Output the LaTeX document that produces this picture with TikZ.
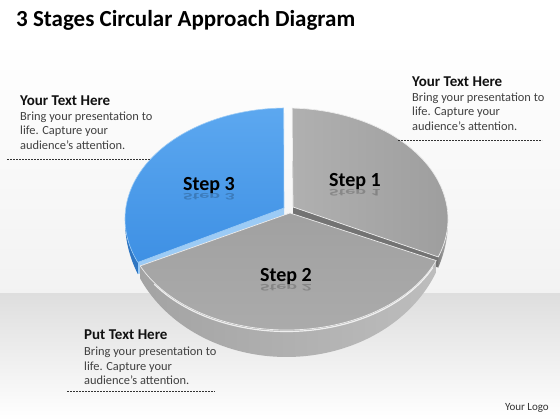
\documentclass[tikz,border=0pt]{standalone}
\usepackage{fontspec}
\setmainfont{Carlito}
\definecolor{bodytxt}{HTML}{404040}
\definecolor{headtxt}{HTML}{111111}
\definecolor{bluetop}{HTML}{4A9EEE}
\definecolor{bluetopb}{HTML}{3E90E4}
\definecolor{bluewall}{HTML}{2F76C2}
\definecolor{bluecut}{HTML}{9CCBF5}
\begin{document}
\begin{tikzpicture}[x=1pt,y=-1pt,
  head/.style={anchor=base west,font=\fontsize{15}{17}\selectfont\bfseries,text=headtxt,inner sep=0pt},
  body/.style={anchor=base west,font=\fontsize{12.4}{14.5}\selectfont,text=bodytxt,inner sep=0pt},
  sep/.style={line width=0.6pt,draw=black!80,dash pattern=on 2pt off 1pt},
  steplbl/.style={font=\fontsize{20}{22}\selectfont\bfseries,text=black,inner sep=0pt},
  refl/.style={font=\fontsize{20}{22}\selectfont\bfseries,text=black,opacity=0.2,inner sep=0pt},
  rim/.style={draw=white!85!gray,line width=0.7pt,line join=round}]
\useasboundingbox (0,0) rectangle (560,420);
% background
\fill[white] (0,0) rectangle (560,420);
\shade[top color=white,bottom color=black!5] (0,40) rectangle (560,293);
\shade[top color=black!13,bottom color=white] (0,293) rectangle (560,420);

% ---- Step 1 (exploded, back right)
\coordinate (a1) at (293,207);
\coordinate (a1b) at (293,226);
\path[fill=black!55] (a1) -- ({286.5+161.5*cos(-20)},{219-111*sin(-20)})
   -- ({286.5+161.5*cos(-20)},{221-136*sin(-20)}) -- (a1b) -- cycle;
\path[left color=black!50,right color=black!28]
   plot[domain=0:-20,samples=20,variable=\t] ({286.5+161.5*cos(\t)},{219-111*sin(\t)})
   -- plot[domain=-20:0,samples=20,variable=\t] ({286.5+161.5*cos(\t)},{221-136*sin(\t)}) -- cycle;
\path[left color=black!31,right color=black!38,rim] (a1)
   -- plot[domain=88:-20,samples=60,variable=\t] ({286.5+161.5*cos(\t)},{219-111*sin(\t)}) -- cycle;

% ---- Step 3 (blue, back left)
\coordinate (a3) at (284,208);
\coordinate (a3b) at (284,226);
\path[fill=bluecut] (a3) -- ({286.5+161.5*cos(203)},{219-111*sin(203)})
   -- ({286.5+161.5*cos(203)},{221-136*sin(203)}) -- (a3b) -- cycle;
\path[fill=bluewall]
   plot[domain=180:203,samples=20,variable=\t] ({286.5+161.5*cos(\t)},{219-111*sin(\t)})
   -- plot[domain=203:180,samples=20,variable=\t] ({286.5+161.5*cos(\t)},{221-136*sin(\t)}) -- cycle;
\path[top color=bluetop!90!white,bottom color=bluetopb,draw=bluecut,line width=0.6pt] (a3)
   -- plot[domain=91:203,samples=60,variable=\t] ({286.5+161.5*cos(\t)},{219-111*sin(\t)}) -- cycle;

% ---- Step 2 (front)
\coordinate (a2) at (290,213);
\path[left color=black!36,middle color=black!46,right color=black!26]
   plot[domain=205:338,samples=80,variable=\t] ({286.5+161.5*cos(\t)},{219-111*sin(\t)})
   -- plot[domain=338:205,samples=80,variable=\t] ({286.5+161.5*cos(\t)},{221-136*sin(\t)}) -- cycle;
\draw[white,line width=1.2pt,opacity=0.8]
   plot[domain=215:335,samples=80,variable=\t] ({286.5+161.5*cos(\t)},{220.5-111*sin(\t)});
\path[top color=black!37,bottom color=black!33,rim] (a2)
   -- plot[domain=205:338,samples=80,variable=\t] ({286.5+161.5*cos(\t)},{219-111*sin(\t)}) -- cycle;

% step labels with reflections
\node[steplbl,anchor=base] (s1) at (355,186) {Step 1};
\node[refl,anchor=north] at (355,188) {\scalebox{1}[-0.5]{Step 1}};
\node[steplbl,anchor=base] (s3) at (209,190) {Step 3};
\node[refl,anchor=north] at (209,192) {\scalebox{1}[-0.5]{Step 3}};
\node[steplbl,anchor=base] (s2) at (286,281) {Step 2};
\node[refl,anchor=north] at (286,283) {\scalebox{1}[-0.5]{Step 2}};

% title
\node[anchor=base west,inner sep=0pt,font=\fontsize{23}{26}\selectfont\bfseries] (title) at (16,27) {3 Stages Circular Approach Diagram};

% left text block
\node[head] (h1) at (20,106) {Your Text Here};
\node[body] (b1a) at (20,120.7) {Bring your presentation to};
\node[body] (b1b) at (20,135) {life. Capture your};
\node[body] (b1c) at (20,149.3) {audience’s attention.};
\coordinate (d1a) at (7,159);
\coordinate (d1b) at (150,159);
\draw[sep] (d1a) -- (d1b);

% right text block
\node[head] (h2) at (412,86.7) {Your Text Here};
\node[body] (b2a) at (412,102) {Bring your presentation to};
\node[body] (b2b) at (412,116) {life. Capture your};
\node[body] (b2c) at (412,130) {audience’s attention.};
\coordinate (d2a) at (398,140);
\coordinate (d2b) at (542,140);
\draw[sep] (d2a) -- (d2b);

% bottom text block
\node[head] (h3) at (84,339) {Put Text Here};
\node[body] (b3a) at (84,355) {Bring your presentation to};
\node[body] (b3b) at (84,370) {life. Capture your};
\node[body] (b3c) at (84,384) {audience’s attention.};
\coordinate (d3a) at (67,391);
\coordinate (d3b) at (215,391);
\draw[sep] (d3a) -- (d3b);

% logo
\node[anchor=base east,inner sep=0pt,font=\fontsize{11}{13}\selectfont,text=black!80] (logo) at (549,410) {Your Logo};
\end{tikzpicture}
\end{document}
